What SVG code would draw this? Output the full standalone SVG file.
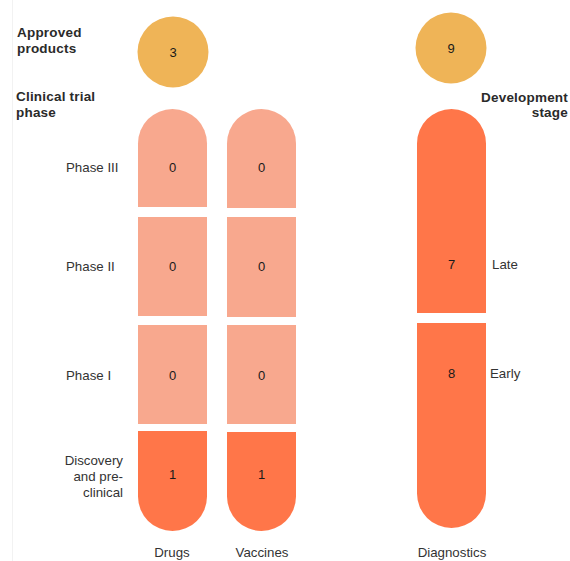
<svg xmlns="http://www.w3.org/2000/svg" width="570" height="561" viewBox="0 0 570 561">
<style>
.hd{font-family:"Liberation Sans",Arial,sans-serif;font-size:13.5px;font-weight:bold;fill:#2a2a2a;letter-spacing:0.2px}
.lb{font-family:"Liberation Sans",Arial,sans-serif;font-size:13.3px;fill:#333}
.num{font-family:"Liberation Sans",Arial,sans-serif;font-size:13px;fill:#1a1a1a;text-anchor:middle}
.appr{fill:#EFB457}
.light{fill:#F8A88E}
.dark{fill:#FF7649}
</style>
<rect width="570" height="561" fill="#fff"/>
<line x1="12.5" y1="0" x2="12.5" y2="561" stroke="#f2f2f2" stroke-width="1"/>
<g id="headings">
<text class="hd" x="17" y="37">Approved</text>
<text class="hd" x="17" y="53">products</text>
<text class="hd" x="16" y="101">Clinical trial</text>
<text class="hd" x="16" y="117">phase</text>
<text class="hd" x="568" y="102" text-anchor="end">Development</text>
<text class="hd" x="568" y="117" text-anchor="end">stage</text>
</g>
<g id="phase-labels">
<text class="lb" x="66" y="172">Phase III</text>
<text class="lb" x="66" y="271">Phase II</text>
<text class="lb" x="66" y="380">Phase I</text>
<text class="lb" x="123" y="465" text-anchor="end">Discovery</text>
<text class="lb" x="123" y="481" text-anchor="end">and pre-</text>
<text class="lb" x="123" y="497" text-anchor="end">clinical</text>
<text class="lb" x="492" y="269">Late</text>
<text class="lb" x="490" y="378">Early</text>
</g>
<g id="approved-drugs">
<circle class="appr" cx="173" cy="52" r="35.5"/>
<text class="num" x="173" y="57">3</text>
</g>
<g id="approved-diagnostics">
<circle class="appr" cx="451" cy="48" r="35.5"/>
<text class="num" x="451" y="53">9</text>
</g>
<g id="drugs-phase3">
<path class="light" d="M138,207 V143.5 A34.5,34.5 0 0 1 207,143.5 V207 Z"/>
<text class="num" x="172.5" y="172">0</text>
</g>
<g id="drugs-phase2">
<rect class="light" x="138" y="217" width="69" height="99"/>
<text class="num" x="172.5" y="271">0</text>
</g>
<g id="drugs-phase1">
<rect class="light" x="138" y="325" width="69" height="99"/>
<text class="num" x="172.5" y="380">0</text>
</g>
<g id="drugs-discovery">
<path class="dark" d="M138,431 H207 V496.5 A34.5,34.5 0 0 1 138,496.5 Z"/>
<text class="num" x="172.5" y="479">1</text>
</g>
<g id="vaccines-phase3">
<path class="light" d="M227,208 V143.5 A34.5,34.5 0 0 1 296,143.5 V208 Z"/>
<text class="num" x="261.5" y="172">0</text>
</g>
<g id="vaccines-phase2">
<rect class="light" x="227" y="217" width="69" height="100"/>
<text class="num" x="261.5" y="271">0</text>
</g>
<g id="vaccines-phase1">
<rect class="light" x="227" y="325" width="69" height="99"/>
<text class="num" x="261.5" y="380">0</text>
</g>
<g id="vaccines-discovery">
<path class="dark" d="M227,432 H296 V496.5 A34.5,34.5 0 0 1 227,496.5 Z"/>
<text class="num" x="261.5" y="479">1</text>
</g>
<g id="diagnostics-late">
<path class="dark" d="M417,313 V143.5 A34.5,34.5 0 0 1 486,143.5 V313 Z"/>
<text class="num" x="451.5" y="269">7</text>
</g>
<g id="diagnostics-early">
<path class="dark" d="M417,323 H486 V493.5 A34.5,34.5 0 0 1 417,493.5 Z"/>
<text class="num" x="451.5" y="378">8</text>
</g>
<g id="column-labels">
<text class="lb" x="172" y="557" text-anchor="middle">Drugs</text>
<text class="lb" x="262" y="557" text-anchor="middle">Vaccines</text>
<text class="lb" x="452" y="557" text-anchor="middle">Diagnostics</text>
</g>
<g id="connectors"></g>
</svg>
